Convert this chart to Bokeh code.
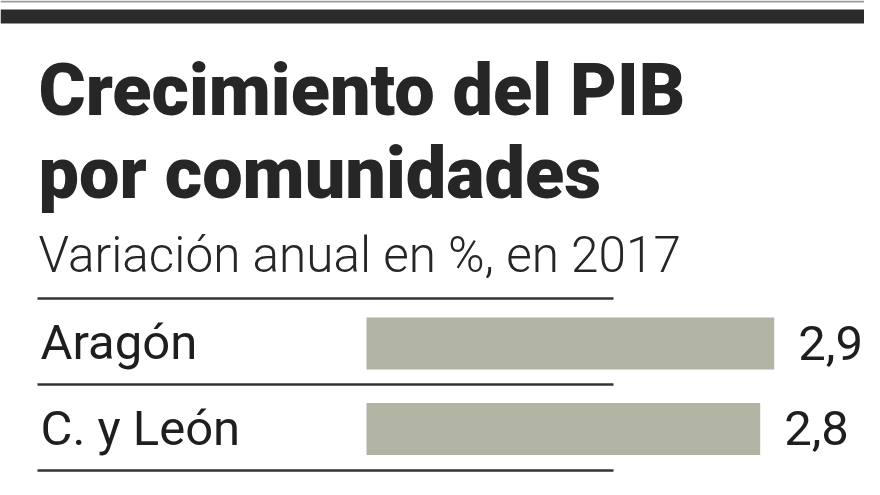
from bokeh.plotting import figure
from bokeh.models import ColumnDataSource, Range1d, Label, BoxAnnotation
from bokeh.core.properties import value
from bokeh.embed import file_html
from bokeh.resources import INLINE

# ---- data ----
regions = ["Aragón", "C. y León", "Galicia"]
growth = [2.9, 2.8, 2.8]
value_labels = ["2,9", "2,8", "2,8"]
title_lines = ["Crecimiento del PIB", "por comunidades"]
subtitle = "Variación anual en %, en 2017"

W, H = 864, 479
ROW0, ROWSTEP = 343.0, 85.5      # pixel centre of first row, row spacing
X0, KX = 366.0, 140.6            # pixel of zero, px per unit
SHIFT = 0.36                     # empirical baseline correction (em)

def dy(p):
    return (p - ROW0) / ROWSTEP

def dx(p):
    return (p - X0) / KX

TITLE_FONT = "Roboto Black"
SUB_FONT = "Roboto Light"
BODY_FONT = "Roboto"
TITLE_SIZE, SUB_SIZE, BODY_SIZE = 72, 49.5, 49

p = figure(width=W, height=H, output_backend="svg", toolbar_location=None,
           x_range=Range1d(dx(0), dx(W)), y_range=Range1d(dy(H), dy(0)),
           min_border=0, background_fill_color="white",
           border_fill_color="white", outline_line_color=None)
p.axis.visible = False
p.xgrid.visible = False
p.ygrid.visible = False

rows = list(range(len(regions)))
src = ColumnDataSource(dict(
    y=rows, v=growth, lab=value_labels, name=regions,
    lx=[dx(40)] * len(regions),
))

# top rules
p.add_layout(BoxAnnotation(left=dx(0), right=dx(W), top=dy(0), bottom=dy(2),
                           fill_color="#9a9a9a", fill_alpha=1, line_color=None))
p.add_layout(BoxAnnotation(left=dx(0), right=dx(W), top=dy(9), bottom=dy(23),
                           fill_color="#2b2b2b", fill_alpha=1, line_color=None))

# separators
for yy in [298, 384, 470]:
    p.add_layout(BoxAnnotation(left=dx(37), right=dx(613), top=dy(yy - 1.3),
                               bottom=dy(yy + 1.3), fill_color="#333333",
                               fill_alpha=1, line_color=None))

# bars
p.hbar(y="y", left=0, right="v", height=52 / ROWSTEP, source=src,
       fill_color="#b1b4a2", line_color=None)

# labels
body_off = 17 - SHIFT * BODY_SIZE
p.text(x="lx", y="y", text="name", source=src, y_offset=body_off,
       text_font=value(BODY_FONT), text_font_size=f"{BODY_SIZE}px",
       text_color="#1e1e1e", text_baseline="alphabetic", text_align="left")
p.text(x="v", y="y", text="lab", source=src, x_offset=24, y_offset=body_off,
       text_font=value(BODY_FONT), text_font_size=f"{BODY_SIZE}px",
       text_color="#1e1e1e", text_baseline="alphabetic", text_align="left")

# titles
for line, base in zip(title_lines, [116, 199]):
    p.add_layout(Label(x=dx(38), y=dy(base - SHIFT * TITLE_SIZE), text=line,
                       text_font=TITLE_FONT, text_font_size=f"{TITLE_SIZE}px",
                       text_color="#262626", text_baseline="alphabetic"))
p.add_layout(Label(x=dx(38), y=dy(272 - SHIFT * SUB_SIZE), text=subtitle,
                   text_font=SUB_FONT, text_font_size=f"{SUB_SIZE}px",
                   text_color="#262626", text_baseline="alphabetic"))

open("out.html", "w").write(file_html(p, INLINE))
